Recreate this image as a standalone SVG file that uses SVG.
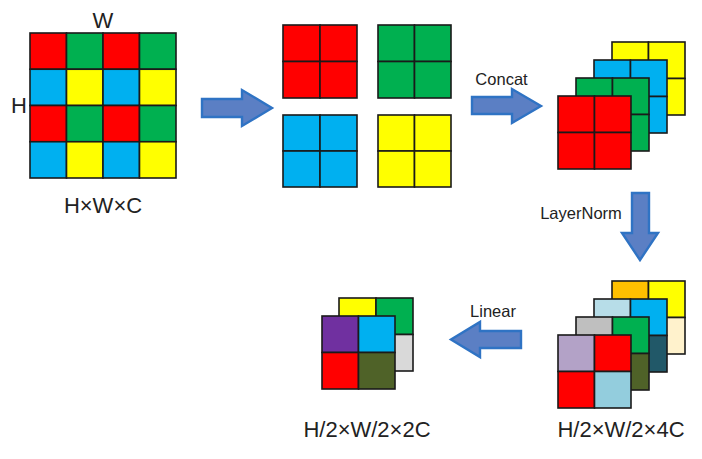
<svg xmlns="http://www.w3.org/2000/svg" width="702" height="459" viewBox="0 0 702 459">
<style>
.c{stroke:#1a1a1a;stroke-width:1.6}
.r{fill:#ff0000}.g{fill:#00b050}.b{fill:#00b0f0}.y{fill:#ffff00}
.gy{fill:#bfbfbf}.ol{fill:#4f6228}.lb{fill:#b7dde8}.dt{fill:#215868}
.or{fill:#ffc000}.cr{fill:#fff2cc}.lv{fill:#b3a2c7}.sb{fill:#93cddd}
.pu{fill:#7030a0}.lg{fill:#d9d9d9}
.arrow{fill:#5b7fc4;stroke:#2f73c4;stroke-width:2.4;stroke-linejoin:miter}
text{font-family:"Liberation Sans",Arial,sans-serif;fill:#222}
.big{font-size:22px}
.sm{font-size:16.5px}
</style>
<rect width="702" height="459" fill="#ffffff"/>

<g id="input-grid">
<g class="c">
<rect class="r" x="30" y="33" width="36.5" height="36.25"/>
<rect class="g" x="66.5" y="33" width="36.5" height="36.25"/>
<rect class="r" x="103" y="33" width="36.5" height="36.25"/>
<rect class="g" x="139.5" y="33" width="36.5" height="36.25"/>
<rect class="b" x="30" y="69.25" width="36.5" height="36.25"/>
<rect class="y" x="66.5" y="69.25" width="36.5" height="36.25"/>
<rect class="b" x="103" y="69.25" width="36.5" height="36.25"/>
<rect class="y" x="139.5" y="69.25" width="36.5" height="36.25"/>
<rect class="r" x="30" y="105.5" width="36.5" height="36.25"/>
<rect class="g" x="66.5" y="105.5" width="36.5" height="36.25"/>
<rect class="r" x="103" y="105.5" width="36.5" height="36.25"/>
<rect class="g" x="139.5" y="105.5" width="36.5" height="36.25"/>
<rect class="b" x="30" y="141.75" width="36.5" height="36.25"/>
<rect class="y" x="66.5" y="141.75" width="36.5" height="36.25"/>
<rect class="b" x="103" y="141.75" width="36.5" height="36.25"/>
<rect class="y" x="139.5" y="141.75" width="36.5" height="36.25"/>
</g>
<text class="big" x="103" y="28" text-anchor="middle">W</text>
<text class="big" x="19" y="113" text-anchor="middle">H</text>
<text class="big" x="103" y="213" text-anchor="middle">H×W×C</text>
</g>

<g id="patches">
<g id="patch-red" class="c">
<rect class="r" x="283" y="25" width="37" height="36.5"/><rect class="r" x="320" y="25" width="37" height="36.5"/>
<rect class="r" x="283" y="61.5" width="37" height="36.5"/><rect class="r" x="320" y="61.5" width="37" height="36.5"/>
</g>
<g id="patch-green" class="c">
<rect class="g" x="378" y="25" width="36.5" height="36.5"/><rect class="g" x="414.5" y="25" width="36.5" height="36.5"/>
<rect class="g" x="378" y="61.5" width="36.5" height="36.5"/><rect class="g" x="414.5" y="61.5" width="36.5" height="36.5"/>
</g>
<g id="patch-blue" class="c">
<rect class="b" x="283" y="115" width="37" height="36"/><rect class="b" x="320" y="115" width="37" height="36"/>
<rect class="b" x="283" y="151" width="37" height="36"/><rect class="b" x="320" y="151" width="37" height="36"/>
</g>
<g id="patch-yellow" class="c">
<rect class="y" x="378" y="115" width="36.5" height="36"/><rect class="y" x="414.5" y="115" width="36.5" height="36"/>
<rect class="y" x="378" y="151" width="36.5" height="36"/><rect class="y" x="414.5" y="151" width="36.5" height="36"/>
</g>
</g>

<g id="concat-stack" class="c">
<rect class="y" x="612" y="42" width="36.5" height="36.5"/><rect class="y" x="648.5" y="42" width="36.5" height="36.5"/>
<rect class="y" x="612" y="78.5" width="36.5" height="36.5"/><rect class="y" x="648.5" y="78.5" width="36.5" height="36.5"/>
<rect class="b" x="594" y="60" width="36.5" height="36.5"/><rect class="b" x="630.5" y="60" width="36.5" height="36.5"/>
<rect class="b" x="594" y="96.5" width="36.5" height="36.5"/><rect class="b" x="630.5" y="96.5" width="36.5" height="36.5"/>
<rect class="g" x="576" y="78" width="36.5" height="36.5"/><rect class="g" x="612.5" y="78" width="36.5" height="36.5"/>
<rect class="g" x="576" y="114.5" width="36.5" height="36.5"/><rect class="g" x="612.5" y="114.5" width="36.5" height="36.5"/>
<rect class="r" x="558" y="96" width="36.5" height="36.5"/><rect class="r" x="594.5" y="96" width="36.5" height="36.5"/>
<rect class="r" x="558" y="132.5" width="36.5" height="36.5"/><rect class="r" x="594.5" y="132.5" width="36.5" height="36.5"/>
</g>

<g id="norm-stack">
<g class="c">
<rect class="or" x="612" y="281" width="36.5" height="36.5"/><rect class="y" x="648.5" y="281" width="36.5" height="36.5"/>
<rect class="or" x="612" y="317.5" width="36.5" height="36.5"/><rect class="cr" x="648.5" y="317.5" width="36.5" height="36.5"/>
<rect class="lb" x="594" y="299" width="36.5" height="36.5"/><rect class="b" x="630.5" y="299" width="36.5" height="36.5"/>
<rect class="lb" x="594" y="335.5" width="36.5" height="36.5"/><rect class="dt" x="630.5" y="335.5" width="36.5" height="36.5"/>
<rect class="gy" x="576" y="317" width="36.5" height="36.5"/><rect class="g" x="612.5" y="317" width="36.5" height="36.5"/>
<rect class="gy" x="576" y="353.5" width="36.5" height="36.5"/><rect class="ol" x="612.5" y="353.5" width="36.5" height="36.5"/>
<rect class="lv" x="558" y="335" width="36.5" height="36.5"/><rect class="r" x="594.5" y="335" width="36.5" height="36.5"/>
<rect class="r" x="558" y="371.5" width="36.5" height="36.5"/><rect class="sb" x="594.5" y="371.5" width="36.5" height="36.5"/>
</g>
<text class="big" x="621" y="437" text-anchor="middle">H/2×W/2×4C</text>
</g>

<g id="output-stack">
<g class="c">
<rect class="y" x="339" y="298" width="37" height="36.5"/><rect class="g" x="376" y="298" width="37" height="36.5"/>
<rect class="y" x="339" y="334.5" width="37" height="36.5"/><rect class="lg" x="376" y="334.5" width="37" height="36.5"/>
<rect class="pu" x="322" y="316" width="36.5" height="36.5"/><rect class="b" x="358.5" y="316" width="36.5" height="36.5"/>
<rect class="r" x="322" y="352.5" width="36.5" height="36.5"/><rect class="ol" x="358.5" y="352.5" width="36.5" height="36.5"/>
</g>
<text class="big" x="367" y="437" text-anchor="middle">H/2×W/2×2C</text>
</g>

<g id="connectors">
<path class="arrow" d="M202,99 H242 V90 L272,108 L242,126 V117 H202 Z"/>
<path class="arrow" d="M472,97 H512 V89 L541,106 L512,123 V114 H472 Z"/>
<text class="sm" x="501.5" y="85" text-anchor="middle">Concat</text>
<path class="arrow" d="M632,193 H649 V233 H658 L640,260 L622,233 H632 Z"/>
<text class="sm" x="581" y="219" text-anchor="middle">LayerNorm</text>
<path class="arrow" d="M521,331 H480 V322 L451,339.5 L480,357 V348 H521 Z"/>
<text class="sm" x="493" y="317" text-anchor="middle">Linear</text>
</g>
</svg>
